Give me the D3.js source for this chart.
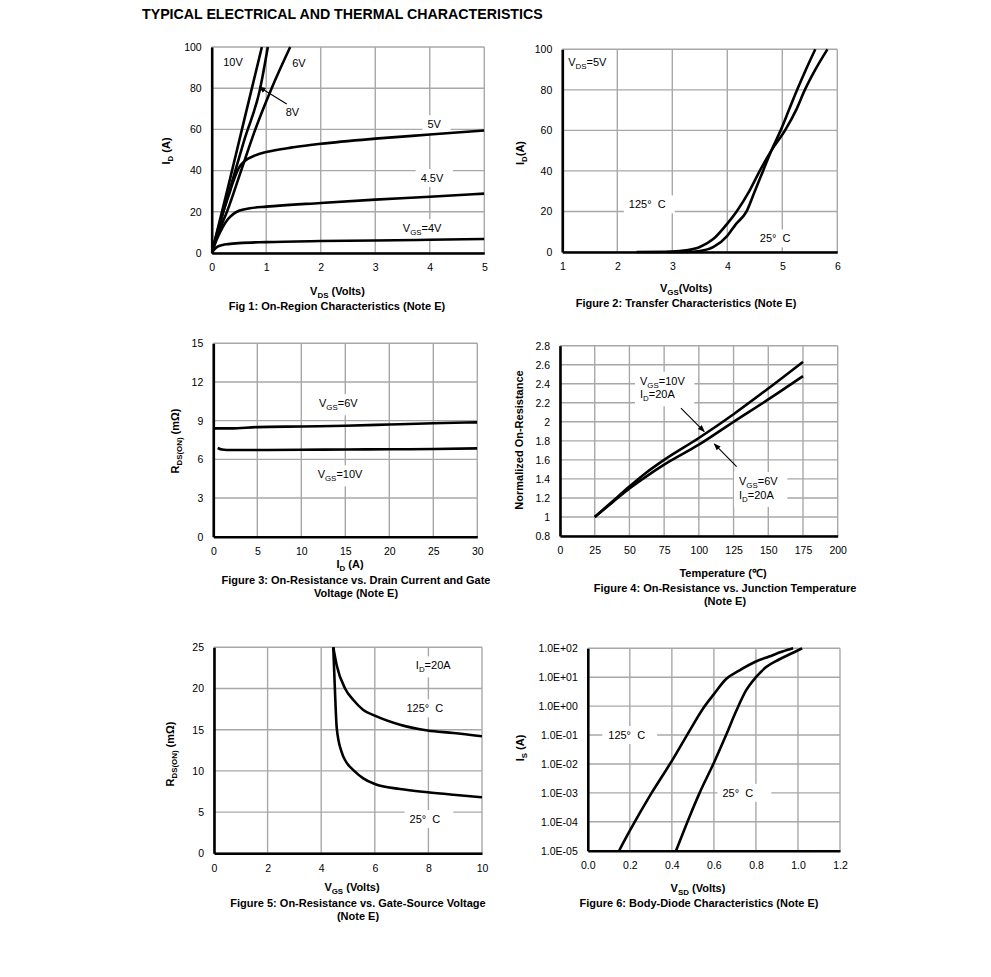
<!DOCTYPE html>
<html><head><meta charset="utf-8">
<script src="https://cdn.jsdelivr.net/npm/d3@7"></script>
<style>body{margin:0;background:#fff;} text{font-family:"Liberation Sans",Arial,Helvetica,sans-serif;}</style>
</head><body>
<svg id="c" width="991" height="977"></svg>
<script>
// ---------------- DATA ----------------
const pageTitle = "TYPICAL ELECTRICAL AND THERMAL CHARACTERISTICS";

// Fig 1: On-Region Characteristics
const fig1XTicks = [0,1,2,3,4,5];
const fig1YTicks = [0,20,40,60,80,100];
const fig1Vds10 = [0,0.3,0.6,0.92];            const fig1Id10 = [0,32,65,100];
const fig1Vds8  = [0,0.3,0.6,0.89,1.03];       const fig1Id8  = [0,28,55,80,100];
const fig1Vds6  = [0,0.14,0.28,0.54,0.8,1.1,1.44]; const fig1Id6 = [0,11,20,40,60,80,100];
const fig1Vds5  = [0,0.1,0.21,0.3,0.4,0.49,0.6,0.8,1,1.5,2,3,4,5];
const fig1Id5   = [0,10,20,27,35,41,44.5,47.4,49,51.3,53,55.5,57.5,59.5];
const fig1Vds45 = [0,0.1,0.2,0.3,0.4,0.5,0.7,1,2,3,4,5];
const fig1Id45  = [0,7,12.5,16.5,19,20.5,21.7,22.5,24.3,25.9,27.3,28.8];
const fig1Vds4  = [0,0.05,0.1,0.2,0.3,0.5,1,2,3,4,5];
const fig1Id4   = [0,1.8,3,3.9,4.3,4.8,5.3,5.8,6.1,6.4,6.8];

// Fig 2: Transfer Characteristics
const fig2XTicks = [1,2,3,4,5,6];
const fig2YTicks = [0,20,40,60,80,100];
const fig2Vgs125 = [2.35,3.0,3.25,3.5,3.75,4.0,4.17,4.4,4.59,4.8,5.05,5.25,5.41,5.6,5.82];
const fig2Id125  = [0,0.2,0.8,2.5,6.5,14,20,30,40,50,60,70,80,90,100];
const fig2Vgs25  = [2.9,3.25,3.5,3.75,4.0,4.15,4.35,4.5,4.65,4.8,4.97,5.12,5.27,5.43,5.6];
const fig2Id25   = [0,0.05,0.5,2.5,8,13.5,20,30,40,50,60,70,80,90,100];

// Fig 3: On-Resistance vs. Drain Current
const fig3XTicks = [0,5,10,15,20,25,30];
const fig3YTicks = [0,3,6,9,12,15];
const fig3Id6  = [0,2,5,10,15,20,25,30];
const fig3Rds6 = [8.4,8.4,8.5,8.55,8.6,8.7,8.8,8.87];
const fig3Id10  = [0.5,1,2,5,10,15,20,25,30];
const fig3Rds10 = [6.88,6.76,6.72,6.72,6.74,6.76,6.78,6.8,6.85];

// Fig 4: On-Resistance vs. Junction Temperature
const fig4XTicks = [0,25,50,75,100,125,150,175,200];
const fig4YTicks = [0.8,1,1.2,1.4,1.6,1.8,2,2.2,2.4,2.6,2.8];
const fig4Temp = [25,37.5,50,62.5,75,100,125,150,175];
const fig4R10  = [1,1.16,1.32,1.47,1.6,1.83,2.08,2.35,2.63];
const fig4R6   = [1,1.15,1.3,1.43,1.55,1.76,2.0,2.235,2.48];

// Fig 5: On-Resistance vs. Gate-Source Voltage
const fig5XTicks = [0,2,4,6,8,10];
const fig5YTicks = [0,5,10,15,20,25];
const fig5Vgs125 = [4.45,4.58,4.89,5.2,5.57,6,6.94,7.97,8.93,10];
const fig5R125   = [25,22.8,20,18.6,17.4,16.7,15.6,14.9,14.6,14.2];
const fig5Vgs25  = [4.45,4.51,4.58,4.76,4.93,5.2,5.57,6,6.94,7.97,8.93,10];
const fig5R25    = [25,20,15.2,12.3,11.1,10.1,9.1,8.4,7.8,7.4,7.1,6.8];

// Fig 6: Body-Diode Characteristics
const fig6XTicks = [0,0.2,0.4,0.6,0.8,1.0,1.2];
const fig6YTicks = [1e-5,1e-4,1e-3,1e-2,1e-1,1e0,1e1,1e2];
const fig6YLabels = ["1.0E-05","1.0E-04","1.0E-03","1.0E-02","1.0E-01","1.0E+00","1.0E+01","1.0E+02"];
const fig6Vsd125 = [0.149,0.2,0.3,0.4,0.484,0.547,0.6,0.658,0.72,0.8,0.863,0.926,0.977];
const fig6Is125  = [1e-5,4.9e-5,9e-4,1.28e-2,0.14,0.8,2.6,8.7,17,35,52,77,100];
const fig6Vsd25  = [0.42,0.484,0.532,0.6,0.658,0.705,0.753,0.8,0.847,0.91,0.974,1.02];
const fig6Is25   = [1e-5,1.5e-4,1e-3,1.1e-2,0.1,0.65,3.5,10,22,41,69,100];

// ---------------- DRAWING ----------------
const svg = d3.select("#c");
const FONT = '"Liberation Sans",Arial,Helvetica,sans-serif';
const zip = (xs, ys) => xs.map((v,i)=>[v, ys[i]]);

svg.append("defs").append("marker")
  .attr("id","arr").attr("viewBox","0 0 10 10").attr("refX",9).attr("refY",5)
  .attr("markerWidth",7).attr("markerHeight",7).attr("markerUnits","userSpaceOnUse")
  .attr("orient","auto")
  .append("path").attr("d","M0,1 L10,5 L0,9 z").attr("fill","#000");

function rich(t, s, size, drop){
  drop = drop===undefined ? 3 : drop;
  const parts = s.split(/(_\{[^}]*\})/).filter(p=>p.length);
  let sub=false;
  parts.forEach(p=>{
    if(p.startsWith("_{")){
      t.append("tspan").attr("font-size",size*0.72).attr("dy",sub?0:drop).text(p.slice(2,-1));
      sub=true;
    } else {
      t.append("tspan").attr("font-size",size).attr("dy",sub?-drop:0).text(p);
      sub=false;
    }
  });
  return t;
}

svg.append("text").attr("x",142).attr("y",19).attr("font-size",14.2).attr("font-weight","bold")
  .attr("font-family",FONT).text(pageTitle);

function panel(cfg){
  const f = cfg.frame;
  const g = svg.append("g");
  const x = d3.scaleLinear().domain(cfg.xDomain).range([f.l,f.r]);
  const y = (cfg.log ? d3.scaleLog() : d3.scaleLinear()).domain(cfg.yDomain).range([f.b,f.t]);
  const clipId = "clip"+cfg.id;
  svg.select("defs").append("clipPath").attr("id",clipId).append("rect")
    .attr("x",f.l).attr("y",f.t-2).attr("width",f.r-f.l).attr("height",f.b-f.t+4);

  // grid
  g.append("g").selectAll("line").data(cfg.xTicks).join("line")
    .attr("x1",d=>x(d)).attr("x2",d=>x(d)).attr("y1",f.t).attr("y2",f.b)
    .attr("stroke","#a8a8a8").attr("stroke-width",1.4);
  g.append("g").selectAll("line").data(cfg.yTicks).join("line")
    .attr("y1",d=>y(d)).attr("y2",d=>y(d)).attr("x1",f.l).attr("x2",f.r)
    .attr("stroke","#a8a8a8").attr("stroke-width",1.4);

  // labels with white boxes
  const lg = g.append("g");
  (cfg.labels||[]).forEach(L=>{
    const lines = Array.isArray(L.text)?L.text:[L.text];
    const gg = lg.append("g");
    const rect = gg.append("rect").attr("fill","#fff");
    lines.forEach((s,i)=>{
      const t = gg.append("text").attr("font-family",FONT).attr("font-size",11)
        .attr("x",x(L.x)).attr("y",y(L.y[i]!==undefined?L.y[i]:L.y)+4)
        .attr("text-anchor",L.anchor||"middle");
      rich(t,s,11);
    });
    const bb = gg.node().getBBox();
    const pl=L.pl!==undefined?L.pl:5, pr=L.pr!==undefined?L.pr:9, pt=L.pt!==undefined?L.pt:3, pb=L.pb!==undefined?L.pb:3;
    rect.attr("x",bb.x-pl).attr("y",bb.y-pt).attr("width",bb.width+pl+pr).attr("height",bb.height+pt+pb);
  });

  // arrows
  (cfg.arrows||[]).forEach(A=>{
    g.append("line").attr("x1",x(A.from[0])).attr("y1",y(A.from[1]))
      .attr("x2",x(A.to[0])).attr("y2",y(A.to[1]))
      .attr("stroke","#000").attr("stroke-width",1.1).attr("marker-end","url(#arr)");
  });

  // curves
  const line = d3.line().x(d=>x(d[0])).y(d=>y(d[1])).curve(d3.curveMonotoneX);
  g.append("g").attr("clip-path",`url(#${clipId})`).selectAll("path").data(cfg.series).join("path")
    .attr("d",d=>line(d)).attr("fill","none").attr("stroke","#000").attr("stroke-width",2.6)
    .attr("stroke-linejoin","round");

  // axes
  const xa = g.append("g").attr("transform",`translate(0,${f.b})`)
    .call(d3.axisBottom(x).tickValues(cfg.xTicks).tickSize(0).tickPadding(11)
      .tickFormat((d,i)=>cfg.xLabels[i]));
  const ya = g.append("g").attr("transform",`translate(${f.l},0)`)
    .call(d3.axisLeft(y).tickValues(cfg.yTicks).tickSize(0).tickPadding(10)
      .tickFormat((d,i)=>cfg.yLabels[i]));
  [xa,ya].forEach(a=>{
    a.attr("font-family",FONT).attr("font-size",10.5);
    a.select(".domain").attr("stroke","#000").attr("stroke-width",2.6);
  });
  // titles
  const xt = g.append("text").attr("font-family",FONT).attr("font-weight","bold")
    .attr("text-anchor","middle").attr("x",cfg.xTitle.x).attr("y",cfg.xTitle.y+3);
  rich(xt,cfg.xTitle.text,11,2.5);
  const yt = g.append("text").attr("font-family",FONT).attr("font-weight","bold")
    .attr("text-anchor","middle")
    .attr("transform",`translate(${cfg.yTitle.x+4},${cfg.yTitle.y}) rotate(-90)`);
  rich(yt,cfg.yTitle.text,11);
  cfg.caption.forEach((c,i)=>{
    g.append("text").attr("font-family",FONT).attr("font-weight","bold").attr("font-size",11)
      .attr("text-anchor","middle").attr("x",cfg.capX).attr("y",cfg.capY[i]+5).text(c);
  });
}

const fmt = a => a.map(String);
const C125 = "125°\u00a0 C", C25 = "25°\u00a0 C";

panel({id:1, frame:{l:211.7,r:484.3,t:47,b:253}, xDomain:[0,5], yDomain:[0,100],
  xTicks:fig1XTicks, yTicks:fig1YTicks, xLabels:fmt(fig1XTicks), yLabels:fmt(fig1YTicks),
  series:[zip(fig1Vds10,fig1Id10),zip(fig1Vds8,fig1Id8),zip(fig1Vds6,fig1Id6),
          zip(fig1Vds5,fig1Id5),zip(fig1Vds45,fig1Id45),zip(fig1Vds4,fig1Id4)],
  labels:[{text:"10V",x:0.39,y:92.5,pr:5},{text:"6V",x:1.6,y:92,pr:5},{text:"8V",x:1.48,y:68.5,pr:5},
          {text:"5V",x:4.08,y:62.5},{text:"4.5V",x:4.04,y:36.4},{text:"V_{GS}=4V",x:3.86,y:12.1}],
  arrows:[{from:[1.376,72.3],to:[0.87,80.6]}],
  xTitle:{text:"V_{DS} (Volts)",x:337.5,y:292}, yTitle:{text:"I_{D} (A)",x:166,y:151},
  caption:["Fig 1: On-Region Characteristics (Note E)"], capX:337, capY:[305]});

panel({id:2, frame:{l:562.3,r:837.3,t:49.3,b:252}, xDomain:[1,6], yDomain:[0,100],
  xTicks:fig2XTicks, yTicks:fig2YTicks, xLabels:fmt(fig2XTicks), yLabels:fmt(fig2YTicks),
  series:[zip(fig2Vgs125,fig2Id125),zip(fig2Vgs25,fig2Id25)],
  labels:[{text:"V_{DS}=5V",x:1.455,y:93.7,pb:8},{text:C125,x:2.545,y:23.5},{text:C25,x:4.87,y:6.7}],
  xTitle:{text:"V_{GS}(Volts)",x:686,y:289}, yTitle:{text:"I_{D}(A)",x:520,y:153},
  caption:["Figure 2: Transfer Characteristics (Note E)"], capX:686, capY:[302]});

panel({id:3, frame:{l:213.3,r:477.3,t:343.3,b:536.7}, xDomain:[0,30], yDomain:[0,15],
  xTicks:fig3XTicks, yTicks:fig3YTicks, xLabels:fmt(fig3XTicks), yLabels:fmt(fig3YTicks),
  series:[zip(fig3Id6,fig3Rds6),zip(fig3Id10,fig3Rds10)],
  labels:[{text:"V_{GS}=6V",x:14.2,y:10.35},{text:"V_{GS}=10V",x:14.4,y:4.84}],
  xTitle:{text:"I_{D} (A)",x:350,y:565}, yTitle:{text:"R_{DS(ON)} (mΩ)",x:175,y:441},
  caption:["Figure 3: On-Resistance vs. Drain Current and Gate","Voltage (Note E)"], capX:356, capY:[579,592]});

panel({id:4, frame:{l:560,r:837.7,t:345.7,b:536}, xDomain:[0,200], yDomain:[0.8,2.8],
  xTicks:fig4XTicks, yTicks:fig4YTicks, xLabels:fmt(fig4XTicks), yLabels:fmt(fig4YTicks),
  series:[zip(fig4Temp,fig4R10),zip(fig4Temp,fig4R6)],
  labels:[{text:["V_{GS}=10V","I_{D}=20A"],x:57.6,y:[2.432,2.289],anchor:"start"},
          {text:["V_{GS}=6V","I_{D}=20A"],x:128.9,y:[1.379,1.232],anchor:"start"}],
  arrows:[{from:[87.1,2.144],to:[103.9,1.898]},{from:[127.2,1.53],to:[111.1,1.768]}],
  xTitle:{text:"Temperature (℃)",x:723,y:574}, yTitle:{text:"Normalized On-Resistance",x:519,y:440},
  caption:["Figure 4: On-Resistance vs. Junction Temperature","(Note E)"], capX:725, capY:[587,600]});

panel({id:5, frame:{l:214,r:482,t:647.3,b:853.3}, xDomain:[0,10], yDomain:[0,25],
  xTicks:fig5XTicks, yTicks:fig5YTicks, xLabels:fmt(fig5XTicks), yLabels:fmt(fig5YTicks),
  series:[zip(fig5Vgs125,fig5R125),zip(fig5Vgs25,fig5R25)],
  labels:[{text:"I_{D}=20A",x:8.18,y:22.8},{text:C125,x:7.87,y:17.6},{text:C25,x:7.87,y:4.16,pr:13}],
  xTitle:{text:"V_{GS} (Volts)",x:352,y:888}, yTitle:{text:"R_{DS(ON)} (mΩ)",x:170,y:754},
  caption:["Figure 5: On-Resistance vs. Gate-Source Voltage","(Note E)"], capX:358, capY:[902,915]});

panel({id:6, frame:{l:587.8,r:840,t:648.3,b:850.7}, xDomain:[0,1.2], yDomain:[1e-5,1e2], log:true,
  xTicks:fig6XTicks, yTicks:fig6YTicks, xLabels:fig6XTicks.map(d=>d.toFixed(1)), yLabels:fig6YLabels,
  series:[zip(fig6Vsd125,fig6Is125),zip(fig6Vsd25,fig6Is25)],
  labels:[{text:C125,x:0.185,y:0.1,pl:6,pr:12},{text:C25,x:0.714,y:1e-3,pl:5,pr:18}],
  xTitle:{text:"V_{SD} (Volts)",x:698,y:889}, yTitle:{text:"I_{S} (A)",x:520,y:748},
  caption:["Figure 6: Body-Diode Characteristics (Note E)"], capX:699, capY:[902]});
</script>
</body></html>
